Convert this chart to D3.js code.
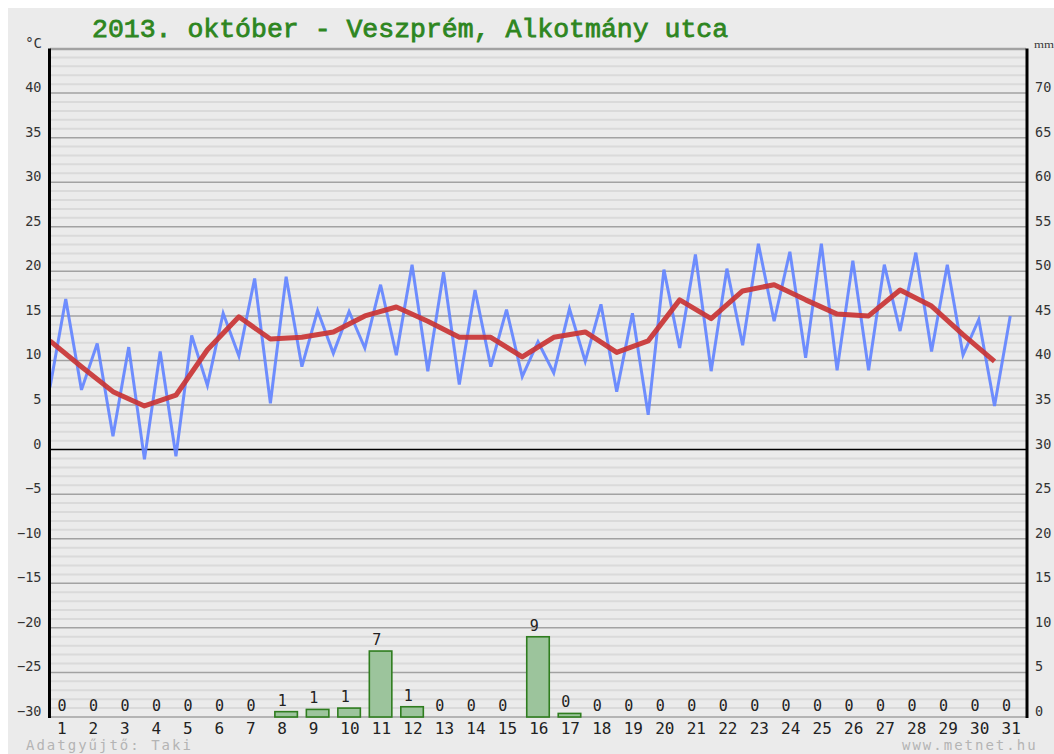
<!DOCTYPE html>
<html>
<head>
<meta charset="utf-8">
<script src="https://cdn.jsdelivr.net/npm/d3@7"></script>
<style>
  html, body { margin: 0; padding: 0; background: #ffffff; }
  svg { display: block; }
</style>
</head>
<body>
<svg id="chart" width="1054" height="754"></svg>
<script>
// ---------------- data ----------------
const titleText = "2013. október - Veszprém, Alkotmány utca";
const days = [1,2,3,4,5,6,7,8,9,10,11,12,13,14,15,16,17,18,19,20,21,22,23,24,25,26,27,28,29,30,31];
// daily minimum temperature (°C)
const tMin = [7.0, 6.7, 1.5, -1.1, -0.75, 7.2, 10.5, 5.2, 9.3, 10.8, 11.4, 10.6, 8.8, 7.3, 9.3, 8.2,
              8.6, 9.9, 6.5, 3.9, 11.4, 8.8, 11.7, 14.4, 10.3, 8.9, 8.9, 13.3, 11.0, 10.6, 4.9];
// daily maximum temperature (°C)
const tMax = [16.9, 11.9, 11.5, 11.0, 12.8, 15.3, 19.2, 19.4, 15.6, 15.5, 18.5, 20.75, 19.9, 17.9, 15.7, 12.1,
              15.8, 16.3, 15.3, 20.2, 21.9, 20.3, 23.1, 22.2, 23.1, 21.2, 20.75, 22.1, 20.75, 14.6, 15.0];
// daily mean temperature (°C)
const tMean = [12.2, 9.3, 6.5, 4.9, 6.1, 11.2, 14.9, 12.4, 12.6, 13.2, 15.0, 16.0, 14.4, 12.6, 12.6, 10.4,
               12.6, 13.2, 10.9, 12.2, 16.8, 14.7, 17.8, 18.5, 16.8, 15.2, 15.0, 17.9, 16.1, 12.9, 9.9];
// daily precipitation (mm)
const precip = [0, 0, 0, 0, 0, 0, 0, 0.6, 0.85, 1.0, 7.4, 1.15, 0, 0, 0, 9.0,
                0.4, 0, 0, 0, 0, 0, 0, 0, 0, 0, 0, 0, 0, 0, 0];
const tempTicks = [-30,-25,-20,-15,-10,-5,0,5,10,15,20,25,30,35,40];
const mmTicks = [0,5,10,15,20,25,30,35,40,45,50,55,60,65,70];
const collector = "Adatgyűjtő: Taki";
const site = "www.metnet.hu";

// ---------------- layout ----------------
const svg = d3.select("#chart");
const X0 = 50, X1 = 1026, YB = 717, YT = 48.5;

svg.append("rect").attr("x", 8).attr("y", 8).attr("width", 1054 - 8).attr("height", 754 - 8)
   .attr("fill", "#ebebeb");

const xDay = d3.scaleLinear().domain([0, 31]).range([X0, X1]);
const xBand = d3.scaleBand().domain(days).range([X0, X1]).paddingInner(0.285).paddingOuter(0.1425);
const y = d3.scaleLinear().domain([-30, 45]).range([YB, YT]);
const yMm = d3.scaleLinear().domain([0, 75]).range([YB, YT]);

// minor grid (every 1 °C)
const minor = d3.range(-29, 45).filter(v => v % 5 !== 0);
svg.append("g").selectAll("line").data(minor).join("line")
  .attr("x1", X0).attr("x2", X1)
  .attr("y1", d => y(d)).attr("y2", d => y(d))
  .attr("stroke", "#dadada").attr("stroke-width", 2);

// major grid
const major = d3.range(-30, 46, 5).filter(v => v !== 0);
svg.append("g").selectAll("line").data(major).join("line")
  .attr("x1", X0).attr("x2", X1)
  .attr("y1", d => y(d)).attr("y2", d => y(d))
  .attr("stroke", "#a2a2a2").attr("stroke-width", 1.5);

// zero line
svg.append("line").attr("x1", X0).attr("x2", X1).attr("y1", y(0)).attr("y2", y(0))
   .attr("stroke", "#000").attr("stroke-width", 1.5);

// precipitation bars
svg.append("g").selectAll("rect").data(precip).join("rect")
  .attr("x", (d, i) => xBand(days[i]))
  .attr("width", xBand.bandwidth())
  .attr("y", d => yMm(d))
  .attr("height", d => YB - yMm(d))
  .attr("fill", "#9cc49c").attr("stroke", "#2f7d1f").attr("stroke-width", 1.6);

// bar value labels
svg.append("g").selectAll("text").data(precip).join("text")
  .attr("x", (d, i) => xBand(days[i]) + 3)
  .attr("y", d => yMm(d) - 6)
  .attr("font-family", "DejaVu Sans Mono").attr("font-size", 15)
  .attr("fill", "#222")
  .text(d => Math.round(d));

// day labels
svg.append("g").selectAll("text").data(days).join("text")
  .attr("x", d => xBand(d) + 2.5)
  .attr("y", 734)
  .attr("font-family", "DejaVu Sans Mono").attr("font-size", 16)
  .attr("fill", "#222")
  .text(d => d);

// temperature min/max zigzag
const zig = [];
days.forEach((d, i) => { zig.push([i, tMin[i]]); zig.push([i + 0.5, tMax[i]]); });
svg.append("path").datum(zig)
  .attr("d", d3.line().x(p => xDay(p[0])).y(p => y(p[1])))
  .attr("fill", "none").attr("stroke", "#6384ff").attr("stroke-width", 3)
  .attr("stroke-linejoin", "miter").attr("stroke-opacity", 0.92);

// mean temperature
svg.append("path").datum(tMean)
  .attr("d", d3.line().x((v, i) => xDay(i)).y(v => y(v)))
  .attr("fill", "none").attr("stroke", "#c93434").attr("stroke-width", 5)
  .attr("stroke-linejoin", "round").attr("stroke-opacity", 0.92);

// top border
svg.append("line").attr("x1", X0).attr("x2", X1).attr("y1", YT + 1).attr("y2", YT + 1)
   .attr("stroke", "#a2a2a2").attr("stroke-width", 1.5);

// axes
const axL = svg.append("g").attr("transform", `translate(${X0 - 0.5},0)`)
  .call(d3.axisLeft(y).tickValues(tempTicks).tickSize(0).tickSizeOuter(0).tickPadding(8));
const axR = svg.append("g").attr("transform", `translate(${X1 + 1},0)`)
  .call(d3.axisRight(yMm).tickValues(mmTicks).tickSize(0).tickSizeOuter(0).tickPadding(8));
[axL, axR].forEach(ax => {
  ax.select(".domain").attr("stroke", "#000").attr("stroke-width", 3)
    .attr("d", `M0,${YT}V${YB + 1}`);
  ax.selectAll("text").attr("font-family", "DejaVu Sans Mono").attr("font-size", 13.5)
    .attr("fill", "#333").attr("dy", "0em").attr("y", -1.5);
});

// unit labels
svg.append("text").attr("x", 42).attr("y", 48).attr("text-anchor", "end")
  .attr("font-family", "DejaVu Sans Mono").attr("font-size", 14).attr("fill", "#333").text("°C");
svg.append("text").attr("x", 1034).attr("y", 48)
  .attr("font-family", "Liberation Serif").attr("font-size", 11).attr("fill", "#3a3a3a")
  .attr("textLength", 20).attr("lengthAdjust", "spacingAndGlyphs").text("mm");

// title
svg.append("text").attr("x", 92).attr("y", 37)
  .attr("font-family", "Liberation Mono").attr("font-size", 26.5)
  .attr("fill", "#2e861f").attr("stroke", "#2e861f").attr("stroke-width", 0.8)
  .text(titleText);

// footer
svg.append("text").attr("x", 26).attr("y", 750)
  .attr("font-family", "DejaVu Sans Mono").attr("font-size", 14).attr("letter-spacing", 2)
  .attr("fill", "#b4b4b4").text(collector);
svg.append("text").attr("x", 902).attr("y", 750)
  .attr("font-family", "DejaVu Sans Mono").attr("font-size", 14).attr("letter-spacing", 2)
  .attr("fill", "#b4b4b4").text(site);
</script>
</body>
</html>
